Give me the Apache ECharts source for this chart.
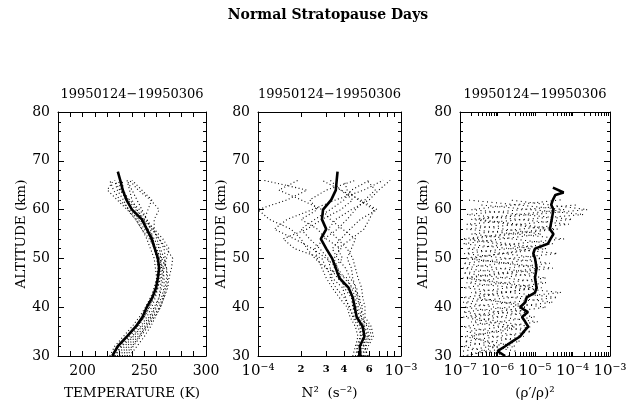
<!DOCTYPE html>
<html>
<head>
<meta charset="utf-8">
<title>Normal Stratopause Days</title>
<script src="https://cdn.jsdelivr.net/npm/echarts@6/dist/echarts.min.js"></script>
<style>
    html, body { margin: 0; padding: 0; background: #fff; }
    #main { width: 632px; height: 403px; }
</style>
</head>
<body>
<div id="main"></div>
<script>
//==================== Normal Stratopause Days ====================//

/************** data ***************/

var periodLabel = '19950124\u221219950306';

// altitude levels (km) for the individual nights
var profileAlt = [30, 32, 34, 36, 38, 40, 42, 44, 46, 48, 50, 52, 54, 56, 58, 60, 62, 64, 66];
// altitude levels (km) for the mean curves
var meanAlt = [30, 32, 34, 36, 38, 40, 42, 44, 46, 48, 50, 52, 54, 56, 58, 60, 62, 64, 66, 67.8];

// temperature (K)
var tempMean = [224, 228.5, 236, 243, 248.5, 252, 256.5, 259.5, 261, 262, 261, 258.5, 256, 252, 248, 240, 235.5, 232.5, 230.5, 228.5];
var tempProfiles = [
    [232, 238, 245, 252, 257, 262, 265, 267, 268, 268, 266, 263, 260, 258, 258, 262, 255, 245, 238],
    [228, 234, 241, 248, 254, 258, 262, 264, 265, 266, 268, 270, 265, 258, 250, 244, 240, 238, 236],
    [222, 226, 233, 240, 246, 251, 255, 258, 260, 261, 260, 258, 257, 255, 252, 246, 238, 230, 226],
    [236, 241, 247, 253, 258, 263, 266, 268, 269, 268, 264, 259, 254, 248, 243, 236, 228, 220, 225],
    [226, 231, 238, 245, 250, 254, 258, 261, 263, 264, 263, 260, 256, 250, 245, 238, 230, 225, 222],
    [230, 236, 243, 250, 255, 259, 262, 263, 264, 265, 267, 266, 262, 256, 249, 243, 237, 233, 232],
    [224, 229, 236, 244, 250, 254, 257, 259, 260, 259, 258, 255, 252, 248, 243, 237, 233, 228, 226],
    [234, 240, 246, 251, 256, 260, 264, 266, 266, 265, 262, 258, 255, 252, 250, 253, 256, 248, 240],
    [226, 232, 240, 247, 252, 256, 259, 261, 262, 263, 264, 262, 258, 253, 246, 240, 235, 231, 229],
    [238, 244, 250, 255, 259, 263, 266, 269, 270, 272, 273, 268, 262, 257, 252, 248, 244, 240, 236]
];

// buoyancy frequency squared N^2 (s^-2)
var n2Mean = [5.2e-4, 5.15e-4, 5.55e-4, 5.4e-4, 4.9e-4, 4.75e-4, 4.6e-4, 4.3e-4, 3.7e-4, 3.5e-4, 3.3e-4, 3.0e-4, 2.75e-4, 3.0e-4, 2.8e-4, 2.85e-4, 3.25e-4, 3.5e-4, 3.55e-4, 3.6e-4];
var n2Profiles = [
    [5.8e-4, 5.6e-4, 6.0e-4, 5.8e-4, 5.3e-4, 5.0e-4, 5.2e-4, 4.6e-4, 4.0e-4, 3.6e-4, 3.0e-4, 2.4e-4, 1.8e-4, 1.3e-4, 1.6e-4, 2.4e-4, 3.5e-4, 5.5e-4, 7.5e-4],
    [4.8e-4, 5.0e-4, 5.3e-4, 5.0e-4, 4.6e-4, 4.4e-4, 4.0e-4, 3.5e-4, 3.2e-4, 3.4e-4, 3.9e-4, 3.6e-4, 4.5e-4, 5.5e-4, 6.0e-4, 6.5e-4, 5.0e-4, 4.2e-4, 4.0e-4],
    [5.5e-4, 5.4e-4, 5.9e-4, 5.6e-4, 5.1e-4, 4.9e-4, 4.8e-4, 4.5e-4, 4.2e-4, 3.0e-4, 2.5e-4, 2.2e-4, 2.0e-4, 1.7e-4, 1.2e-4, 1.0e-4, 1.6e-4, 2.2e-4, 1.1e-4],
    [5.0e-4, 4.9e-4, 5.2e-4, 5.2e-4, 4.7e-4, 4.3e-4, 4.1e-4, 3.9e-4, 3.3e-4, 3.0e-4, 2.8e-4, 1.8e-4, 1.5e-4, 2.2e-4, 2.8e-4, 3.8e-4, 4.6e-4, 3.8e-4, 3.2e-4],
    [5.4e-4, 5.7e-4, 6.2e-4, 6.0e-4, 5.2e-4, 5.4e-4, 5.0e-4, 4.9e-4, 4.4e-4, 4.1e-4, 3.6e-4, 3.3e-4, 3.8e-4, 4.4e-4, 5.2e-4, 6.8e-4, 5.2e-4, 3.8e-4, 2.8e-4],
    [5.1e-4, 5.3e-4, 5.4e-4, 5.3e-4, 5.0e-4, 4.6e-4, 4.5e-4, 4.0e-4, 3.8e-4, 3.6e-4, 3.4e-4, 3.8e-4, 3.0e-4, 2.6e-4, 2.0e-4, 2.6e-4, 2.3e-4, 3.0e-4, 4.8e-4],
    [4.6e-4, 4.8e-4, 5.0e-4, 4.8e-4, 4.4e-4, 4.2e-4, 3.7e-4, 3.3e-4, 3.0e-4, 2.8e-4, 2.6e-4, 2.5e-4, 2.9e-4, 3.6e-4, 4.2e-4, 4.8e-4, 5.6e-4, 6.6e-4, 5.8e-4],
    [5.9e-4, 5.5e-4, 5.6e-4, 5.5e-4, 5.5e-4, 5.2e-4, 4.9e-4, 4.8e-4, 4.6e-4, 4.5e-4, 4.2e-4, 4.5e-4, 4.8e-4, 3.9e-4, 3.2e-4, 2.8e-4, 2.0e-4, 1.4e-4, 1.9e-4],
    [5.3e-4, 5.2e-4, 5.8e-4, 5.5e-4, 4.8e-4, 4.6e-4, 4.6e-4, 4.2e-4, 3.6e-4, 3.2e-4, 3.1e-4, 2.7e-4, 2.3e-4, 2.0e-4, 2.5e-4, 3.2e-4, 4.0e-4, 4.5e-4, 6.0e-4],
    [5.6e-4, 5.9e-4, 6.4e-4, 6.2e-4, 5.6e-4, 5.6e-4, 5.4e-4, 5.3e-4, 5.0e-4, 4.8e-4, 4.6e-4, 4.2e-4, 3.6e-4, 3.1e-4, 3.5e-4, 4.5e-4, 6.0e-4, 7.0e-4, 8.4e-4]
];

// relative density variance (rho'/rho)^2
var rhoAltEven = [30, 32, 34, 36, 38, 40, 42, 44, 46, 48, 50, 52, 54, 56, 58, 60, 62];
var rhoAltOdd = [31, 33, 35, 37, 39, 41, 43, 45, 47, 49, 51, 53, 55, 57, 59, 61];
var rhoMeanAlt = [30, 31, 32, 33, 34, 35, 36, 37, 38, 39, 40, 41, 42, 43, 44, 46, 48, 50, 51, 52, 53, 54, 55, 56, 58, 60, 61, 62, 63, 63.5, 64.5];
var rhoMean = [1.6e-6, 1.0e-6, 1.6e-6, 2.5e-6, 4e-6, 5e-6, 6.6e-6, 5.5e-6, 4.5e-6, 6.5e-6, 4e-6, 5.5e-6, 6e-6, 1.0e-5, 1.1e-5, 1.0e-5, 1.1e-5, 1.0e-5, 9e-6, 1.0e-5, 2.2e-5, 2.6e-5, 3.1e-5, 2.5e-5, 2.8e-5, 3.1e-5, 2.7e-5, 3.0e-5, 3.5e-5, 5.8e-5, 3.0e-5];
var rhoEvenProfiles = [
    [1.2e-7, 3e-6, 1.3e-7, 8e-6, 2e-7, 2e-5, 1.2e-7, 1.5e-5, 1.5e-7, 3e-5, 1.2e-7, 2e-5, 2e-7, 4e-5, 3e-7, 2.5e-4, 2e-6],
    [2e-6, 1.2e-7, 5e-6, 1.2e-7, 1e-5, 1.3e-7, 4e-5, 1.2e-7, 2e-5, 1.2e-7, 1.5e-5, 1.5e-7, 6e-5, 1.5e-7, 1e-4, 2e-7, 5e-5],
    [1.5e-7, 1e-6, 2e-7, 3e-6, 1.2e-7, 6e-6, 3e-7, 8e-6, 1.2e-7, 1.2e-5, 2e-7, 8e-6, 1.2e-7, 2e-5, 2e-7, 6e-5, 1.5e-7]
];
var rhoOddProfiles = [
    [1.2e-7, 4e-6, 1.5e-7, 1.2e-5, 1.2e-7, 3e-5, 2e-7, 2e-5, 1.2e-7, 2.5e-5, 1.3e-7, 3e-5, 2e-7, 8e-5, 1.5e-7, 1.5e-4],
    [3e-6, 1.3e-7, 8e-6, 2e-7, 6e-6, 1.2e-7, 5e-5, 1.5e-7, 1e-5, 1.2e-7, 4e-5, 1.2e-7, 1.5e-5, 1.5e-7, 2e-4, 3e-7]
];

// ticks and labels
var tempLabels = [200, 250, 300];
var n2Ticks = [1e-4, 2e-4, 3e-4, 4e-4, 5e-4, 6e-4, 7e-4, 8e-4, 9e-4, 1e-3];
var n2Labels = [1e-4, 2e-4, 3e-4, 4e-4, 6e-4, 1e-3];
var rhoDecades = [1e-7, 1e-6, 1e-5, 1e-4];
var rhoMantissas = [1, 2, 3, 4, 5, 6, 7, 8, 9];
var rhoLabels = [1e-7, 1e-6, 1e-5, 1e-4, 1e-3];

/************** settings ***************/

var fontFamily = '"DejaVu Serif", "Liberation Serif", serif';
var grids = [
    { left: 58, top: 112, width: 148, height: 244 },
    { left: 258, top: 112, width: 143, height: 244 },
    { left: 460, top: 112, width: 150, height: 244 }
];

var supMap = { '-': '\u207b', '0': '\u2070', '1': '\u00b9', '2': '\u00b2', '3': '\u00b3',
    '4': '\u2074', '5': '\u2075', '6': '\u2076', '7': '\u2077', '8': '\u2078', '9': '\u2079' };

var logRich = {
    b: { fontFamily: fontFamily, fontSize: 15, color: '#000' },
    s: { fontFamily: fontFamily, fontSize: 10, fontWeight: 'bold', color: '#000' }
};

/************** functions ***************/

function sup(s) {
    return String(s).split('').map(function (c) { return supMap[c] || c; }).join('');
}

function pairs(xs, ys) {
    return xs.map(function (x, i) { return [x, ys[i]]; });
}

// keep values that sit on the axis ends just inside the extent
function inward(vals, min, max) {
    return vals.map(function (v) {
        if (v <= min) return min * 1.000001;
        if (v >= max) return max * 0.999999;
        return v;
    });
}

// 10^n big, in-between mantissas small
function logLabel(v) {
    var lg = Math.log10(v);
    var e = Math.abs(lg - Math.round(lg)) < 1e-3 ? Math.round(lg) : Math.floor(lg);
    var m = Math.round(v / Math.pow(10, e));
    if (m === 1) {
        return '{b|10' + sup(e) + '}';
    }
    return '{s|' + m + '}';
}

function axisLine() {
    return { show: true, onZero: false, lineStyle: { color: '#000', width: 1 } };
}

// bottom axis (with labels and name) + top axis (ticks only)
function xAxisPair(gi, base, label, name) {
    var bottom = Object.assign({
        gridIndex: gi,
        position: 'bottom',
        name: name,
        nameLocation: 'middle',
        nameGap: 30,
        nameTextStyle: { fontFamily: fontFamily, fontSize: 13.5, color: '#000' },
        axisLabel: label
    }, base);
    var top = Object.assign({
        gridIndex: gi,
        position: 'top',
        axisLabel: { show: false }
    }, base);
    return [bottom, top];
}

function yAxisPair(gi) {
    var base = {
        type: 'value',
        min: 30,
        max: 80,
        interval: 10,
        axisLine: axisLine(),
        axisTick: { show: true, inside: true, length: 6, lineStyle: { color: '#000' } },
        minorTick: { show: true, splitNumber: 5, length: 3, lineStyle: { color: '#000' } },
        splitLine: { show: false }
    };
    var left = Object.assign({
        gridIndex: gi,
        position: 'left',
        name: 'ALTITUDE (km)',
        nameLocation: 'middle',
        nameGap: 30,
        nameTextStyle: { fontFamily: fontFamily, fontSize: 13.5, color: '#000' },
        axisLabel: { fontFamily: fontFamily, fontSize: 14, color: '#000', margin: 8 }
    }, base);
    var right = Object.assign({
        gridIndex: gi,
        position: 'right',
        axisLabel: { show: false }
    }, base);
    return [left, right];
}

function dotted(gi, data, gap) {
    return {
        type: 'line',
        xAxisIndex: gi * 2,
        yAxisIndex: gi * 2,
        data: data,
        symbol: 'none',
        silent: true,
        lineStyle: { color: '#000', width: 1.1, type: [1, gap || 2.5] },
        z: 2
    };
}

function thick(gi, data) {
    return {
        type: 'line',
        xAxisIndex: gi * 2,
        yAxisIndex: gi * 2,
        data: data,
        symbol: 'none',
        silent: true,
        lineStyle: { color: '#000', width: 2.6 },
        z: 5
    };
}

function initChart() {
    var myChart = echarts.init(document.getElementById('main'));

    var rhoTicks = [];
    rhoDecades.forEach(function (d) {
        rhoMantissas.forEach(function (m) { rhoTicks.push(m * d); });
    });
    rhoTicks.push(1e-3);

    var tickStyle = { show: true, inside: true, length: 5, lineStyle: { color: '#000' } };

    var tempBase = {
        type: 'value', min: 180, max: 300, interval: 10,
        axisLine: axisLine(), axisTick: tickStyle, splitLine: { show: false }
    };
    var n2Base = {
        type: 'log', logBase: 10, min: 1e-4, max: 1e-3,
        axisLine: axisLine(),
        axisTick: Object.assign({ customValues: inward(n2Ticks, 1e-4, 1e-3) }, tickStyle),
        splitLine: { show: false }
    };
    var rhoBase = {
        type: 'log', logBase: 10, min: 1e-7, max: 1e-3,
        axisLine: axisLine(),
        axisTick: Object.assign({ customValues: inward(rhoTicks, 1e-7, 1e-3) }, tickStyle, { length: 4 }),
        splitLine: { show: false }
    };

    var xAxes = [].concat(
        xAxisPair(0, tempBase, {
            fontFamily: fontFamily, fontSize: 14, color: '#000', margin: 8,
            formatter: function (v) { return tempLabels.indexOf(v) >= 0 ? String(v) : ''; }
        }, 'TEMPERATURE (K)'),
        xAxisPair(1, n2Base, {
            customValues: inward(n2Labels, 1e-4, 1e-3), formatter: logLabel, rich: logRich, margin: 8
        }, 'N\u00b2  (s\u207b\u00b2)'),
        xAxisPair(2, rhoBase, {
            customValues: inward(rhoLabels, 1e-7, 1e-3), formatter: logLabel, rich: logRich, margin: 8
        }, '(\u03c1\u2032/\u03c1)\u00b2')
    );
    var yAxes = [].concat(yAxisPair(0), yAxisPair(1), yAxisPair(2));

    var series = [];
    tempProfiles.forEach(function (p) { series.push(dotted(0, pairs(p, profileAlt))); });
    series.push(thick(0, pairs(tempMean, meanAlt)));
    n2Profiles.forEach(function (p) { series.push(dotted(1, pairs(p, profileAlt))); });
    series.push(thick(1, pairs(n2Mean, meanAlt)));
    rhoEvenProfiles.forEach(function (p) { series.push(dotted(2, pairs(p, rhoAltEven), 3.5)); });
    rhoOddProfiles.forEach(function (p) { series.push(dotted(2, pairs(p, rhoAltOdd), 3.5)); });
    series.push(thick(2, pairs(rhoMean, rhoMeanAlt)));

    var titleStyle = { fontFamily: fontFamily, fontSize: 13, fontWeight: 'normal', color: '#000' };
    var titles = [{
        text: 'Normal Stratopause Days',
        left: 328, top: 8, textAlign: 'center', padding: 0,
        textStyle: { fontFamily: fontFamily, fontSize: 14, fontWeight: 'bold', color: '#000' }
    }];
    grids.forEach(function (g) {
        titles.push({
            text: periodLabel,
            left: g.left + g.width / 2, top: 88, textAlign: 'center', padding: 0,
            textStyle: titleStyle
        });
    });

    var option = {
        animation: false,
        backgroundColor: '#fff',
        title: titles,
        grid: grids.map(function (g) {
            return Object.assign({ containLabel: false, outerBoundsMode: 'none' }, g);
        }),
        xAxis: xAxes,
        yAxis: yAxes,
        series: series
    };

    myChart.setOption(option);
}

/************** init ***************/
initChart();
</script>
</body>
</html>
